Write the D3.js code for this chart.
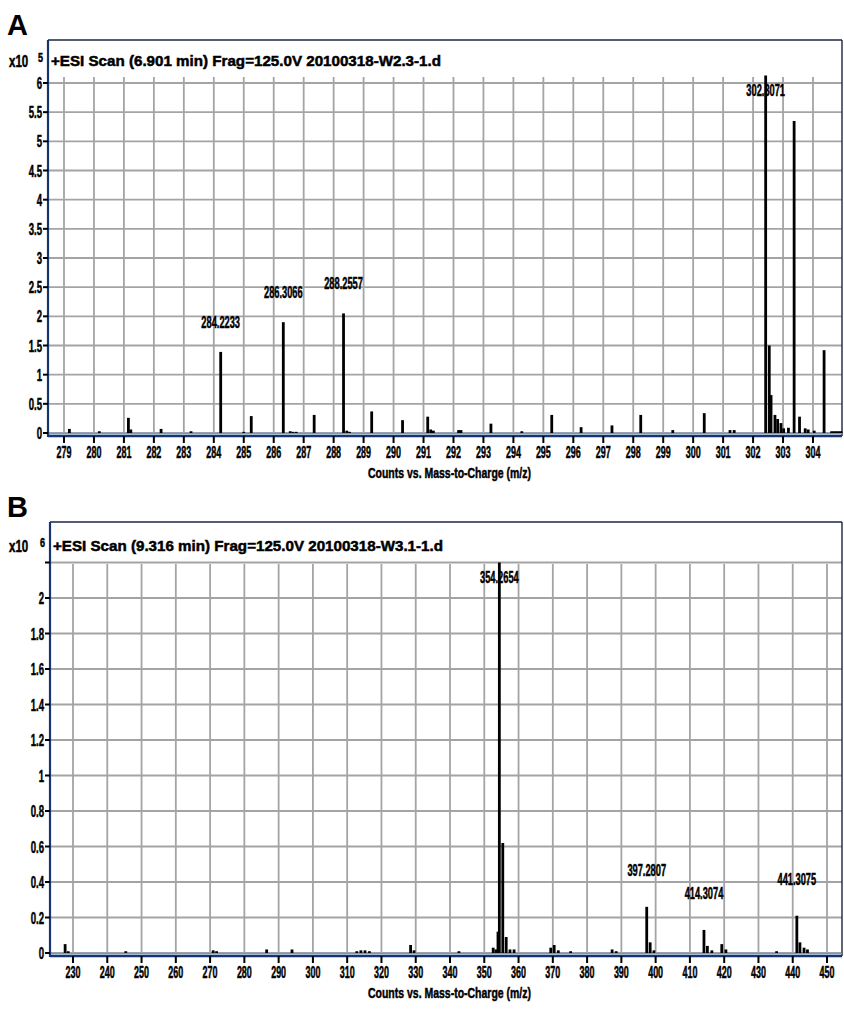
<!DOCTYPE html>
<html>
<head>
<meta charset="utf-8">
<script src="https://d3js.org/d3.v7.min.js"></script>
<style>
  body { margin: 0; background: #fff; }
  text { font-family: "Liberation Sans", Arial, sans-serif; font-weight: bold; fill: #000; }
  text.heavy { stroke: #000; stroke-width: 0.5px; }
</style>
</head>
<body>
<svg id="chart" width="844" height="1010"></svg>
<script>

// ---- panel A : counts x10^5 ----
const aTitle = '+ESI Scan (6.901 min) Frag=125.0V 20100318-W2.3-1.d'
const aXTicks = d3.range(279, 305)
const aYTicks = d3.range(0, 6.01, 0.5)
const aMz = [279.18, 280.18, 281.15, 281.23, 282.24, 283.24, 284.23, 285.0, 285.25, 286.32,
             286.55, 286.64, 286.75, 287.35, 288.33, 288.44, 288.53, 289.27, 290.3, 291.14,
             291.24, 291.33, 292.17, 292.25, 293.25, 294.28, 295.28, 296.26, 297.29, 298.25,
             299.32, 300.37, 301.23, 301.37, 302.42, 302.54, 302.6, 302.73, 302.82, 302.93,
             303.02, 303.18, 303.37, 303.55, 303.74, 303.84, 304.04, 304.37, 304.62, 304.7,
             304.78, 304.86, 304.94]
const aCounts = [0.07, 0.03, 0.26, 0.06, 0.07, 0.03, 1.39, 0.02, 0.29, 1.9,
                 0.03, 0.02, 0.02, 0.31, 2.05, 0.04, 0.02, 0.37, 0.22, 0.28,
                 0.06, 0.04, 0.05, 0.05, 0.16, 0.03, 0.31, 0.1, 0.13, 0.31,
                 0.05, 0.34, 0.05, 0.05, 6.13, 1.5, 0.65, 0.31, 0.24, 0.17,
                 0.08, 0.09, 5.35, 0.28, 0.08, 0.06, 0.04, 1.42, 0.03, 0.03,
                 0.03, 0.03, 0.03]
const aLabelMz = [284.23, 286.32, 288.33, 302.42]
const aLabels = ['284.2233', '286.3066', '288.2557', '302.3071']

// ---- panel B : counts x10^6 ----
const bTitle = '+ESI Scan (9.316 min) Frag=125.0V 20100318-W3.1-1.d'
const bXTicks = d3.range(230, 451, 10)
const bYTicks = d3.range(0, 2.21, 0.2)
const bMz = [227.7, 228.6, 245.4, 270.9, 271.9, 286.5, 293.9, 312.8, 314.0, 315.2,
             316.5, 328.5, 329.5, 342.6, 352.6, 353.4, 354.0, 354.4, 355.4, 356.4,
             357.5, 358.7, 369.4, 370.4, 371.6, 375.2, 387.3, 388.5, 397.4, 398.4,
             399.5, 414.1, 415.1, 416.4, 419.3, 420.5, 435.3, 441.2, 442.1, 443.3,
             444.3]
const bCounts = [0.05, 0.01, 0.01, 0.015, 0.01, 0.02, 0.02, 0.01, 0.015, 0.015,
                 0.01, 0.045, 0.015, 0.01, 0.03, 0.02, 0.12, 2.2, 0.62, 0.09,
                 0.02, 0.02, 0.03, 0.045, 0.015, 0.01, 0.02, 0.01, 0.26, 0.06,
                 0.015, 0.13, 0.04, 0.015, 0.05, 0.02, 0.01, 0.21, 0.06, 0.03,
                 0.02]
const bLabelMz = [354.4, 397.4, 414.1, 441.2]
const bLabels = ['354.2654', '397.2807', '414.3074', '441.3075']

const svg = d3.select('#chart')
const gridCol = '#a4a4a4'
const axisCol = '#15356e'

// narrow text helper (the original uses a very condensed heavy face)
function narrow(g, str, x, y, anchor, size, sx) {
  return g.append('text')
    .attr('class', 'heavy')
    .attr('transform', `translate(${x},${y}) scale(${sx},1)`)
    .attr('text-anchor', anchor)
    .style('font-size', size + 'px')
    .text(str)
}

function panel(p) {
  const g = svg.append('g')
  const x = d3.scaleLinear(p.xTickDomain, p.xTickRange)
  const y = d3.scaleLinear([0, p.yRef], [p.zeroY, p.yRefY])
  const pts = p.mz.map((m, i) => ({ mz: m, v: p.counts[i] }))

  // panel letter
  g.append('text').attr('x', 7).attr('y', p.frameTop - 5)
    .style('font-size', '29px').style('font-family', 'Arial, "Liberation Sans", sans-serif')
    .text(p.letter)

  // grid
  g.append('g').selectAll('line').data(p.xTicks).join('line')
    .attr('x1', d => x(d)).attr('x2', d => x(d))
    .attr('y1', p.gridTop).attr('y2', p.zeroY)
    .attr('stroke', gridCol).attr('stroke-width', 1.8)
  g.append('g').selectAll('line').data(p.yTicks).join('line')
    .attr('x1', p.left).attr('x2', p.right)
    .attr('y1', d => y(d)).attr('y2', d => y(d))
    .attr('stroke', gridCol).attr('stroke-width', 1.8)

  // frame
  g.append('line').attr('x1', p.left).attr('x2', p.right)
    .attr('y1', p.frameTop).attr('y2', p.frameTop)
    .attr('stroke', '#1c2540').attr('stroke-width', 1.6)
  g.append('line').attr('x1', p.right).attr('x2', p.right)
    .attr('y1', p.frameTop).attr('y2', p.axisY)
    .attr('stroke', '#1c2540').attr('stroke-width', 1.4)

  // zero line + bars
  g.append('line').attr('x1', p.left).attr('x2', p.right)
    .attr('y1', p.zeroY + 0.5).attr('y2', p.zeroY + 0.5)
    .attr('stroke', '#6d9ad6').attr('stroke-width', 1.5)
  g.append('g').selectAll('line').data(pts).join('line')
    .attr('x1', d => x(d.mz)).attr('x2', d => x(d.mz))
    .attr('y1', p.zeroY).attr('y2', d => y(d.v))
    .attr('stroke', '#000').attr('stroke-width', 2.8)

  // axes
  g.append('line').attr('x1', p.left).attr('x2', p.right)
    .attr('y1', p.axisY).attr('y2', p.axisY)
    .attr('stroke', axisCol).attr('stroke-width', 2.6)
  g.append('line').attr('x1', p.left).attr('x2', p.left)
    .attr('y1', p.frameTop).attr('y2', p.axisY + 1)
    .attr('stroke', axisCol).attr('stroke-width', 2.2)

  // x ticks + labels
  g.append('g').selectAll('line').data(p.xTicks).join('line')
    .attr('x1', d => x(d)).attr('x2', d => x(d))
    .attr('y1', p.axisY).attr('y2', p.axisY + 7)
    .attr('stroke', '#000').attr('stroke-width', 2)
  p.xTicks.forEach(t => narrow(g, String(t), x(t), p.axisY + 22, 'middle', 16, 0.56))

  // y ticks + labels
  g.append('g').selectAll('line').data(p.yTicks).join('line')
    .attr('x1', p.left - 5).attr('x2', p.left)
    .attr('y1', d => y(d)).attr('y2', d => y(d))
    .attr('stroke', '#000').attr('stroke-width', 2)
  p.yTicks.filter(t => t <= p.yRef + 1e-9)
    .forEach(t => narrow(g, d3.format('~g')(+t.toFixed(2)), p.left - 6, y(t) + 6, 'end', 16, 0.6))

  // exponent label
  narrow(g, 'x10', 9, p.titleY + 1, 'start', 16, 0.72)
  narrow(g, p.exp, p.left - 10, p.titleY - 4, 'start', 12, 0.75)

  // scan title
  g.append('text').attr('class', 'heavy').attr('x', p.left + 3).attr('y', p.titleY)
    .attr('textLength', 390).attr('lengthAdjust', 'spacingAndGlyphs')
    .style('font-size', '15px').text(p.title)

  // axis title
  g.append('text').attr('class', 'heavy').attr('x', 368).attr('y', p.axisY + 42)
    .attr('textLength', 163).attr('lengthAdjust', 'spacingAndGlyphs')
    .style('font-size', '15px').text('Counts vs. Mass-to-Charge (m/z)')

  // peak labels
  p.labelMz.forEach((m, i) => {
    const top = d3.max(pts.filter(d => Math.abs(d.mz - m) < 0.05), d => d.v)
    const ly = Math.max(y(top) - p.labelGap, p.gridTop + 19)
    narrow(g, p.labels[i], x(m), ly, 'middle', 16, 0.58)
  })
}

panel({
  letter: 'A', title: aTitle, exp: '5',
  mz: aMz, counts: aCounts, xTicks: aXTicks, yTicks: aYTicks,
  labelMz: aLabelMz, labels: aLabels, labelGap: 24,
  xTickDomain: [279, 304], xTickRange: [64, 813],
  yRef: 6, yRefY: 83, zeroY: 433, axisY: 436,
  left: 48, right: 842, frameTop: 40, gridTop: 77, titleY: 66
})

panel({
  letter: 'B', title: bTitle, exp: '6',
  mz: bMz, counts: bCounts, xTicks: bXTicks, yTicks: bYTicks,
  labelMz: bLabelMz, labels: bLabels, labelGap: 31,
  xTickDomain: [230, 450], xTickRange: [73, 827],
  yRef: 2, yRefY: 598, zeroY: 953, axisY: 956,
  left: 50, right: 842, frameTop: 522, gridTop: 564, titleY: 551
})

</script>
</body>
</html>
